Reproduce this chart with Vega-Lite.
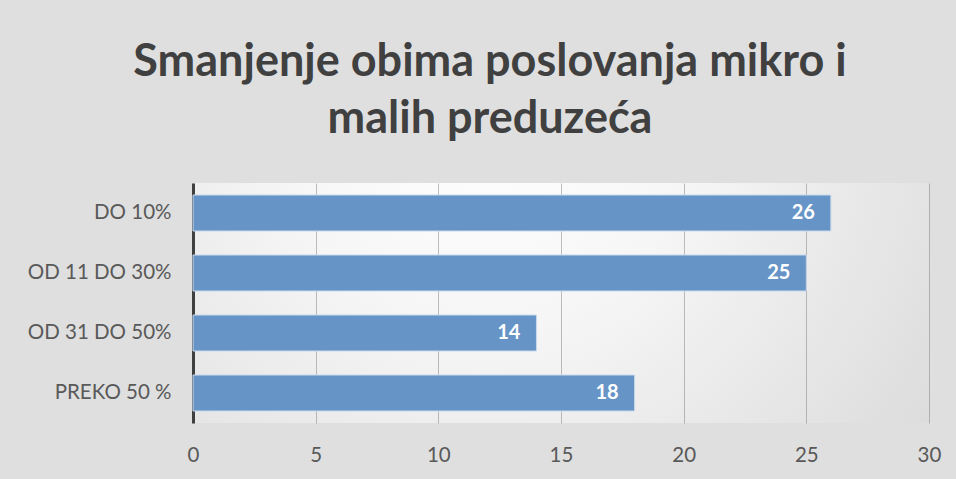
{
  "$schema": "https://vega.github.io/schema/vega-lite/v6.json",
  "width": 736,
  "height": 240,
  "autosize": {"type": "none"},
  "padding": {"left": 193, "top": 183, "right": 27, "bottom": 56},
  "background": "#dfdfdf",
  "title": {
    "text": ["Smanjenje obima poslovanja mikro i", "malih preduzeća"],
    "font": "Lato",
    "fontSize": 45,
    "fontWeight": "bold",
    "color": "#404040",
    "anchor": "middle",
    "frame": "group",
    "dx": -71,
    "baseline": "alphabetic",
    "lineHeight": 57,
    "offset": 5
  },
  "config": {
    "view": {
      "stroke": null,
      "fill": {
        "gradient": "radial",
        "x1": 0.4, "y1": 0.25, "r1": 0,
        "x2": 0.4, "y2": 0.25, "r2": 0.8,
        "stops": [
          {"offset": 0, "color": "#ffffff"},
          {"offset": 0.35, "color": "#f6f6f6"},
          {"offset": 1, "color": "#d8d8d8"}
        ]
      }
    },
    "axis": {
      "labelFont": "Lato",
      "labelFontSize": 20.5,
      "labelColor": "#595959",
      "title": null,
      "ticks": false
    }
  },
  "data": {
    "values": [
      {"kategorija": "DO 10%", "vrijednost": 26},
      {"kategorija": "OD 11 DO 30%", "vrijednost": 25},
      {"kategorija": "OD 31 DO 50%", "vrijednost": 14},
      {"kategorija": "PREKO 50 %", "vrijednost": 18}
    ]
  },
  "encoding": {
    "y": {
      "field": "kategorija",
      "type": "nominal",
      "sort": null,
      "scale": {"paddingInner": 0.4, "paddingOuter": 0.2},
      "axis": {
        "domainColor": "#404040",
        "domainWidth": 3,
        "labelPadding": 22,
        "grid": false
      }
    },
    "x": {
      "field": "vrijednost",
      "type": "quantitative",
      "scale": {"domain": [0, 30], "nice": false},
      "axis": {
        "values": [0, 5, 10, 15, 20, 25, 30],
        "domain": false,
        "grid": true,
        "gridColor": "#7f7f7f",
        "gridOpacity": 0.5,
        "labelFlush": false,
        "labelPadding": 22
      }
    }
  },
  "layer": [
    {
      "mark": {
        "type": "bar",
        "color": "#6794c6",
        "stroke": "#c9d9ec",
        "strokeWidth": 1
      }
    },
    {
      "mark": {
        "type": "text",
        "align": "right",
        "baseline": "middle",
        "dx": -16,
        "font": "Lato",
        "fontSize": 20,
        "fontWeight": "bold",
        "color": "#ffffff"
      },
      "encoding": {"text": {"field": "vrijednost", "type": "quantitative"}}
    }
  ]
}
